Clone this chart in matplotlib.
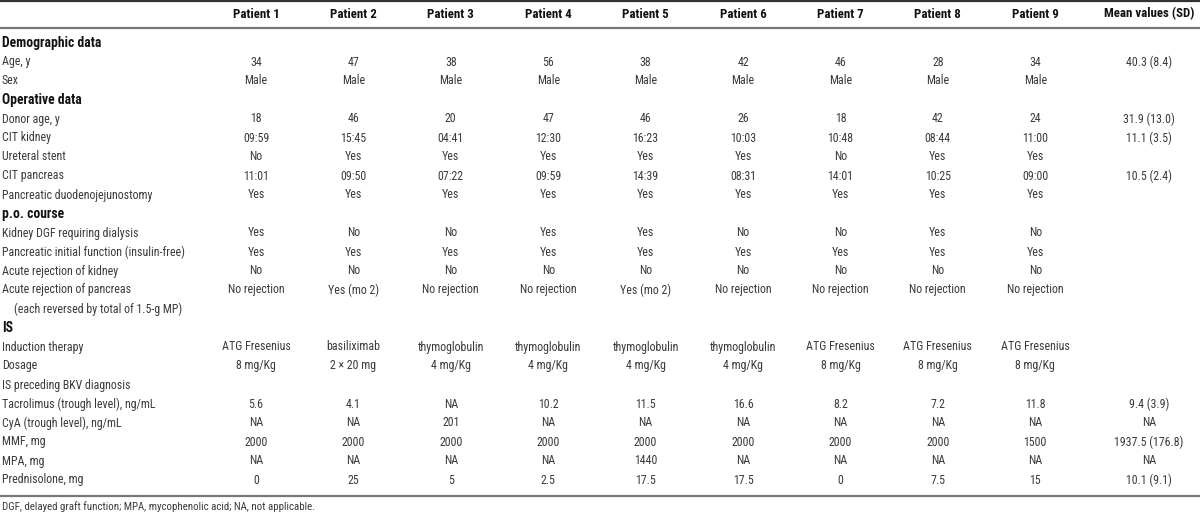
import matplotlib
matplotlib.use("Agg")
import matplotlib.pyplot as plt
from matplotlib import font_manager

# the original uses a condensed sans; take the narrowest one we have
names = set(f.name for f in font_manager.fontManager.ttflist)
FONT = "Liberation Sans"
for cand in ["Liberation Sans Narrow", "Roboto Condensed", "Arial Narrow", "Roboto"]:
    if cand in names:
        FONT = cand
        break
plt.rcParams["font.family"] = [FONT, "DejaVu Sans"]

patients = ["Patient 1", "Patient 2", "Patient 3", "Patient 4", "Patient 5",
            "Patient 6", "Patient 7", "Patient 8", "Patient 9"]
mean_header = "Mean values (SD)"

age = ["34", "47", "38", "56", "38", "42", "46", "28", "34"]
sex = ["Male"] * 9
donor_age = ["18", "46", "20", "47", "46", "26", "18", "42", "24"]
cit_kidney = ["09:59", "15:45", "04:41", "12:30", "16:23", "10:03", "10:48", "08:44", "11:00"]
stent = ["No", "Yes", "Yes", "Yes", "Yes", "Yes", "No", "Yes", "Yes"]
cit_pancreas = ["11:01", "09:50", "07:22", "09:59", "14:39", "08:31", "14:01", "10:25", "09:00"]
duodeno = ["Yes"] * 9
dgf = ["Yes", "No", "No", "Yes", "Yes", "No", "No", "Yes", "No"]
panc_function = ["Yes"] * 9
rej_kidney = ["No"] * 9
rej_pancreas = ["No rejection", "Yes (mo 2)", "No rejection", "No rejection", "Yes (mo 2)",
                "No rejection", "No rejection", "No rejection", "No rejection"]
induction = ["ATG Fresenius", "basiliximab", "thymoglobulin", "thymoglobulin", "thymoglobulin",
             "thymoglobulin", "ATG Fresenius", "ATG Fresenius", "ATG Fresenius"]
dosage = ["8 mg/Kg", "2 \u00d7 20 mg", "4 mg/Kg", "4 mg/Kg", "4 mg/Kg", "4 mg/Kg",
          "8 mg/Kg", "8 mg/Kg", "8 mg/Kg"]
tacrolimus = ["5.6", "4.1", "NA", "10.2", "11.5", "16.6", "8.2", "7.2", "11.8"]
cya = ["NA", "NA", "201", "NA", "NA", "NA", "NA", "NA", "NA"]
mmf = ["2000"] * 8 + ["1500"]
mpa = ["NA", "NA", "NA", "NA", "1440", "NA", "NA", "NA", "NA"]
prednisolone = ["0", "25", "5", "2.5", "17.5", "17.5", "0", "7.5", "15"]

footnote = "DGF, delayed graft function; MPA, mycophenolic acid; NA, not applicable."

# (kind, label, values, mean)
rows = [
    ("section", "Demographic data", None, ""),
    ("data", "Age, y", age, "40.3 (8.4)"),
    ("data", "Sex", sex, ""),
    ("section", "Operative data", None, ""),
    ("data", "Donor age, y", donor_age, "31.9 (13.0)"),
    ("data", "CIT kidney", cit_kidney, "11.1 (3.5)"),
    ("data", "Ureteral stent", stent, ""),
    ("data", "CIT pancreas", cit_pancreas, "10.5 (2.4)"),
    ("data", "Pancreatic duodenojejunostomy", duodeno, ""),
    ("section", "p.o. course", None, ""),
    ("data", "Kidney DGF requiring dialysis", dgf, ""),
    ("data", "Pancreatic initial function (insulin-free)", panc_function, ""),
    ("data", "Acute rejection of kidney", rej_kidney, ""),
    ("data", "Acute rejection of pancreas", rej_pancreas, ""),
    ("indent", "(each reversed by total of 1.5-g MP)", None, ""),
    ("section", "IS", None, ""),
    ("data", "Induction therapy", induction, ""),
    ("data", "Dosage", dosage, ""),
    ("data", "IS preceding BKV diagnosis", None, ""),
    ("data", "Tacrolimus (trough level), ng/mL", tacrolimus, "9.4 (3.9)"),
    ("data", "CyA (trough level), ng/mL", cya, "NA"),
    ("data", "MMF, mg", mmf, "1937.5 (176.8)"),
    ("data", "MPA, mg", mpa, "NA"),
    ("data", "Prednisolone, mg", prednisolone, "10.1 (9.1)"),
]

W, H = 1200, 521
fig = plt.figure(figsize=(W / 100, H / 100), dpi=100)
ax = fig.add_axes([0, 0, 1, 1])
ax.set_xlim(0, W)
ax.set_ylim(H, 0)
ax.axis("off")
renderer = fig.canvas.get_renderer()


def fit_size(s, target_px, weight="normal", base=10.0):
    t = ax.text(0, 0, s, fontsize=base, fontweight=weight)
    w = t.get_window_extent(renderer).width
    t.remove()
    return base * target_px / w


# sizes chosen so two known strings get the widths they have in the original
fs = min(9.3, fit_size("Pancreatic initial function (insulin-free)", 181))
fs_head = min(9.3, fit_size(mean_header, 97, "bold"))
fs_sec = fs_head * 1.06

col_x = [256 + 97.4 * i for i in range(9)]
mean_x = 1149
header_y = 14
first_y = 43
row_h = 19.0
body_color = "#3a3a3a"

for x, p in zip(col_x, patients):
    ax.text(x, header_y, p, ha="center", va="center", fontsize=fs_head,
            fontweight="bold", color="#111111")
ax.text(mean_x, header_y, mean_header, ha="center", va="center", fontsize=fs_head,
        fontweight="bold", color="#111111")

for i, (kind, label, vals, mean) in enumerate(rows):
    y = first_y + i * row_h
    if kind == "section":
        ax.text(2, y, label, ha="left", va="center", fontsize=fs_sec,
                fontweight="bold", color="#111111")
        continue
    lx = 14 if kind == "indent" else 2
    ax.text(lx, y, label, ha="left", va="center", fontsize=fs, color=body_color)
    if vals is not None:
        for x, v in zip(col_x, vals):
            ax.text(x, y, v, ha="center", va="center", fontsize=fs, color=body_color)
    if mean:
        ax.text(mean_x, y, mean, ha="center", va="center", fontsize=fs, color=body_color)

bottom_y = first_y + (len(rows) - 1) * row_h + 16
ax.plot([0, W], [1, 1], color="#333333", lw=1.6)
ax.plot([0, W], [27.5, 27.5], color="#777777", lw=1.6)
ax.plot([0, W], [bottom_y, bottom_y], color="#777777", lw=1.6)
ax.text(2, bottom_y + 11, footnote, ha="left", va="center", fontsize=fs * 0.92,
        color=body_color)

fig.savefig("out.png", dpi=100)
